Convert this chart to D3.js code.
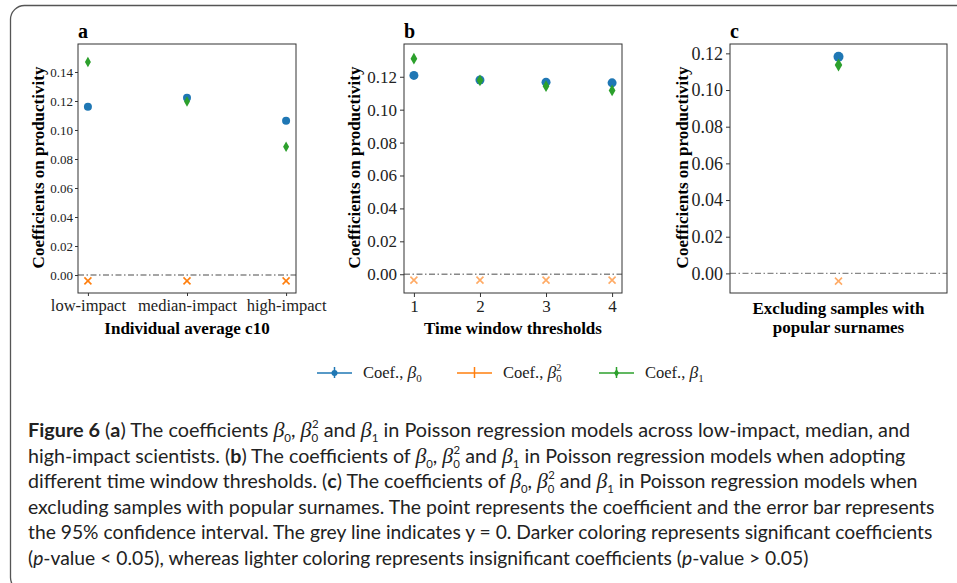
<!DOCTYPE html>
<html>
<head>
<meta charset="utf-8">
<script src="https://cdn.jsdelivr.net/npm/d3@7"></script>
<style>
  body { margin: 0; background: #fff; }
  svg { display: block; }
</style>
</head>
<body>
<svg width="957" height="583"></svg>
<script>
// ---- data ----
const catsA = ["low-impact", "median-impact", "high-impact"];
const beta0A = [0.116, 0.1222, 0.1064];
const beta0sqA = [-0.004, -0.004, -0.004];
const beta1A = [0.1469, 0.1196, 0.0884];

const catsB = ["1", "2", "3", "4"];
const beta0B = [0.1208, 0.118, 0.1167, 0.1163];
const beta0sqB = [-0.0036, -0.0036, -0.0036, -0.0036];
const beta1B = [0.131, 0.1178, 0.1143, 0.1117];

const catsC = [""];
const beta0C = [0.1181];
const beta0sqC = [-0.0042];
const beta1C = [0.1136];

// half width of the 95% CI (very small, mostly hidden by the markers)
const errBeta0 = 0.0008;
const errBeta0sq = 0.0004;
const errBeta1 = 0.0022;

const ticksA = [0, 0.02, 0.04, 0.06, 0.08, 0.10, 0.12, 0.14];
const ticksBC = [0, 0.02, 0.04, 0.06, 0.08, 0.10, 0.12];

const svg = d3.select("svg");
const serif = "'Liberation Serif', 'Times New Roman', serif";
const blue = "#1f77b4", orange = "#ff7f0e", orangeLight = "#ffab66", green = "#2ca02c";

// outer frame of the figure box
svg.append("rect")
  .attr("x", 10.5).attr("y", 5.5)
  .attr("width", 1000).attr("height", 586)
  .attr("rx", 14)
  .attr("fill", "none")
  .attr("stroke", "#555")
  .attr("stroke-width", 1.3);

const panels = [
  { key: "a", left: 78, right: 296, cats: catsA, b0: beta0A, b0sq: beta0sqA, b1: beta1A,
    xdom: [-0.1, 2.1], ydom: [-0.0124, 0.1593], ticks: ticksA,
    yFont: 13, xFont: 16.5, tick: 3, pad: 2, r: 4, sqColor: orange, ylabX: 44,
    xlab: ["Individual average c10"] },
  { key: "b", left: 404, right: 622, cats: catsB, b0: beta0B, b0sq: beta0sqB, b1: beta1B,
    xdom: [-0.15, 3.15], ydom: [-0.0114, 0.1399], ticks: ticksBC,
    yFont: 17, xFont: 17, tick: 4, pad: 3, r: 4.5, sqColor: orangeLight, ylabX: 360,
    xlab: ["Time window thresholds"] },
  { key: "c", left: 730, right: 947, cats: catsC, b0: beta0C, b0sq: beta0sqC, b1: beta1C,
    xdom: [-0.05, 0.05], ydom: [-0.0107, 0.1251], ticks: ticksBC,
    yFont: 18, xFont: 17, tick: 4, pad: 3, r: 5, sqColor: orangeLight, ylabX: 688,
    xlab: ["Excluding samples with", "popular surnames"] }
];

const plotTop = 44, plotBottom = 293;

panels.forEach(p => {
  const x = d3.scaleLinear().domain(p.xdom).range([p.left, p.right]);
  const y = d3.scaleLinear().domain(p.ydom).range([plotBottom, plotTop]);
  const g = svg.append("g");

  // y axis
  const yAxis = g.append("g")
    .attr("transform", `translate(${p.left},0)`)
    .call(d3.axisLeft(y).tickValues(p.ticks).tickFormat(d3.format(".2f")).tickSize(p.tick).tickPadding(p.pad));
  yAxis.select(".domain").remove();
  yAxis.selectAll("text").attr("font-family", serif).attr("font-size", p.yFont).attr("fill", "#222");
  yAxis.selectAll("line").attr("stroke", "#333");

  // x axis
  if (p.key !== "c") {
    const xAxis = g.append("g")
      .attr("transform", `translate(0,${plotBottom})`)
      .call(d3.axisBottom(x).tickValues(d3.range(p.cats.length)).tickFormat(i => p.cats[i]).tickSize(p.tick).tickPadding(3));
    xAxis.select(".domain").remove();
    xAxis.selectAll("text").attr("font-family", serif).attr("font-size", p.xFont).attr("fill", "#222");
    xAxis.selectAll("line").attr("stroke", "#333");
  }

  // zero reference line
  g.append("line")
    .attr("x1", p.left).attr("x2", p.right)
    .attr("y1", y(0)).attr("y2", y(0))
    .attr("stroke", "#888").attr("stroke-width", 1.3)
    .attr("stroke-dasharray", "6,2.5,1.5,2.5");

  // error bars
  const series = [
    { vals: p.b0, err: errBeta0, color: blue },
    { vals: p.b0sq, err: errBeta0sq, color: p.sqColor },
    { vals: p.b1, err: errBeta1, color: green }
  ];
  series.forEach(s => {
    g.selectAll(null).data(s.vals).enter().append("line")
      .attr("x1", (d, i) => x(i)).attr("x2", (d, i) => x(i))
      .attr("y1", d => y(d - s.err)).attr("y2", d => y(d + s.err))
      .attr("stroke", s.color).attr("stroke-width", 1.5);
  });

  // beta0^2 : x markers
  const xs = 3.5;
  g.selectAll(null).data(p.b0sq).enter().append("path")
    .attr("d", (d, i) => {
      const cx = x(i), cy = y(d);
      return `M${cx - xs},${cy - xs}L${cx + xs},${cy + xs}M${cx - xs},${cy + xs}L${cx + xs},${cy - xs}`;
    })
    .attr("stroke", p.sqColor).attr("stroke-width", 1.6).attr("fill", "none");

  // beta0 : circles
  g.selectAll(null).data(p.b0).enter().append("circle")
    .attr("cx", (d, i) => x(i)).attr("cy", d => y(d))
    .attr("r", p.r).attr("fill", blue);

  // beta1 : thin diamonds
  const dw = p.r * 0.75, dh = p.r * 1.3;
  g.selectAll(null).data(p.b1).enter().append("path")
    .attr("d", (d, i) => {
      const cx = x(i), cy = y(d);
      return `M${cx},${cy - dh}L${cx + dw},${cy}L${cx},${cy + dh}L${cx - dw},${cy}Z`;
    })
    .attr("fill", green);

  // frame
  g.append("rect")
    .attr("x", p.left).attr("y", plotTop)
    .attr("width", p.right - p.left).attr("height", plotBottom - plotTop)
    .attr("fill", "none").attr("stroke", "#333").attr("stroke-width", 1);

  // panel letter
  g.append("text")
    .attr("x", p.left).attr("y", 38)
    .attr("font-family", serif).attr("font-weight", "bold").attr("font-size", 20)
    .text(p.key);

  // y label
  g.append("text")
    .attr("transform", `translate(${p.ylabX},${(plotTop + plotBottom) / 2 - 1}) rotate(-90)`)
    .attr("text-anchor", "middle")
    .attr("font-family", serif).attr("font-weight", "bold").attr("font-size", 17)
    .text("Coefficients on productivity");

  // x label
  const cx = (p.left + p.right) / 2;
  p.xlab.forEach((t, i) => {
    g.append("text")
      .attr("x", cx)
      .attr("y", p.xlab.length === 1 ? 334 : 314 + i * 19)
      .attr("text-anchor", "middle")
      .attr("font-family", serif).attr("font-weight", "bold").attr("font-size", 17)
      .text(t);
  });
});

// ---- legend ----
const legendItems = [
  { x: 317, color: blue, mark: "circle", sup: "" },
  { x: 457, color: orange, mark: "x", sup: "2" },
  { x: 599, color: green, mark: "diamond", sup: "" }
];
const ly = 373;
legendItems.forEach((it, k) => {
  const g = svg.append("g");
  g.append("line").attr("x1", it.x).attr("x2", it.x + 35).attr("y1", ly).attr("y2", ly)
    .attr("stroke", it.color).attr("stroke-width", 1.5);
  g.append("line").attr("x1", it.x + 17.5).attr("x2", it.x + 17.5).attr("y1", ly - 6).attr("y2", ly + 5)
    .attr("stroke", it.color).attr("stroke-width", 1.5);
  if (it.mark === "circle") {
    g.append("circle").attr("cx", it.x + 17.5).attr("cy", ly).attr("r", 3).attr("fill", it.color);
  } else if (it.mark === "diamond") {
    g.append("path").attr("d", `M${it.x + 17.5},${ly - 4}l2.5,4l-2.5,4l-2.5,-4z`).attr("fill", it.color);
  }
  const t = g.append("text").attr("x", it.x + 46).attr("y", ly + 5)
    .attr("font-family", serif).attr("font-size", 16.5).attr("fill", "#222");
  t.append("tspan").text("Coef., ");
  t.append("tspan").attr("font-style", "italic").attr("font-size", 17.5).text("β");
  t.append("tspan").attr("font-size", 11).attr("dy", 3.5).text(k === 2 ? "1" : "0");
  if (it.sup) t.append("tspan").attr("font-size", 10).attr("dx", -5.5).attr("dy", -11).text("2");
});

// ---- caption ----
const capLines = [
  [["Figure 6", "b"], ["  (", ""], ["a", "b"], [") The coefficients ", ""], ["0", "beta"], [", ", ""], ["0", "betasq"], [" and ", ""], ["1", "beta"], [" in Poisson regression models across low-impact, median, and", ""]],
  [["high-impact scientists. (", ""], ["b", "b"], [") The coefficients of ", ""], ["0", "beta"], [", ", ""], ["0", "betasq"], [" and ", ""], ["1", "beta"], [" in Poisson regression models when adopting", ""]],
  [["different time window thresholds. (", ""], ["c", "b"], [") The coefficients of ", ""], ["0", "beta"], [", ", ""], ["0", "betasq"], [" and ", ""], ["1", "beta"], [" in Poisson regression models when", ""]],
  [["excluding samples with popular surnames. The point represents the coefficient and the error bar represents", ""]],
  [["the 95% confidence interval. The grey line indicates y = 0. Darker coloring represents significant coefficients", ""]],
  [["(", ""], ["p", "i"], ["-value < 0.05), whereas lighter coloring represents insignificant coefficients (", ""], ["p", "i"], ["-value > 0.05)", ""]]
];
const capWidths = [889, 884, 896, 907, 905, 781];
const capSans = "Lato, 'Open Sans', sans-serif";

capLines.forEach((segs, li) => {
  const t = svg.append("text")
    .attr("font-family", capSans).attr("font-size", 19).attr("fill", "#222");
  let shift = 0;
  const back = sel => { if (shift !== 0) { sel.attr("dy", -shift); shift = 0; } return sel; };
  segs.forEach(([txt, st]) => {
    if (st === "beta" || st === "betasq") {
      back(t.append("tspan").attr("font-family", serif).attr("font-style", "italic").attr("font-size", 21).text("β"));
      t.append("tspan").attr("font-size", 11).attr("dy", 5).text(txt);
      shift = 5;
      if (st === "betasq") {
        t.append("tspan").attr("font-size", 11).attr("dx", -6).attr("dy", -14).text("2");
        shift = -9;
      }
    } else {
      const s = back(t.append("tspan").text(txt));
      if (st === "b") s.attr("font-weight", "bold");
      if (st === "i") s.attr("font-style", "italic");
    }
  });
  const w = t.node().getComputedTextLength();
  t.attr("transform", `translate(28,${437 + li * 25.5}) scale(${capWidths[li] / w},1)`);
});
</script>
</body>
</html>
